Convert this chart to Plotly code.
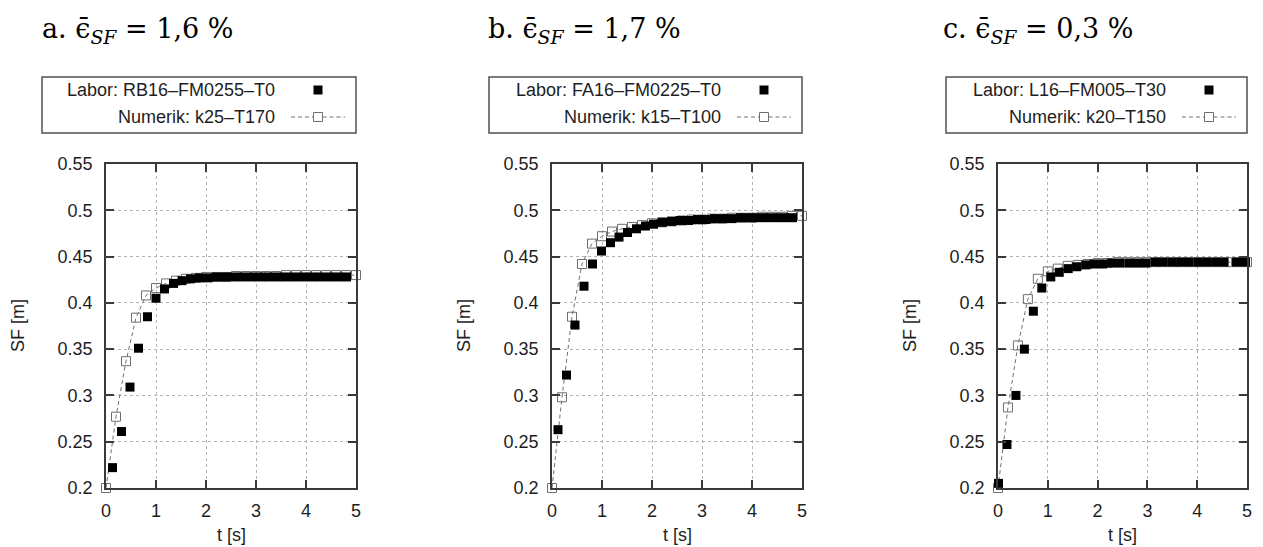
import plotly.graph_objects as go

W, H = 1263, 547

# ---------------- data ----------------
num_t = [0.0, 0.2, 0.4, 0.6, 0.8, 1.0, 1.2, 1.4, 1.6, 1.8, 2.0, 2.2, 2.4, 2.6, 2.8,
         3.0, 3.2, 3.4, 3.6, 3.8, 4.0, 4.2, 4.4, 4.6, 4.8, 5.0]

num_a = [0.200, 0.277, 0.337, 0.384, 0.408, 0.416, 0.421, 0.424, 0.426, 0.427, 0.428, 0.428, 0.428,
         0.429, 0.429, 0.429, 0.429, 0.429, 0.430, 0.430, 0.430, 0.430, 0.430, 0.430, 0.430, 0.430]
lab_t_a = [0.13, 0.31, 0.48, 0.65, 0.83, 1.00, 1.17, 1.35, 1.52, 1.69, 1.87, 2.04, 2.21, 2.39,
           2.56, 2.73, 2.91, 3.08, 3.25, 3.43, 3.60, 3.77, 3.95, 4.12, 4.29, 4.47, 4.64, 4.81]
lab_a = [0.222, 0.261, 0.309, 0.351, 0.385, 0.405, 0.415, 0.421, 0.424, 0.426, 0.427, 0.427, 0.428, 0.428,
         0.428, 0.428, 0.428, 0.428, 0.428, 0.428, 0.428, 0.428, 0.428, 0.428, 0.428, 0.428, 0.428, 0.428]

num_b = [0.200, 0.298, 0.385, 0.442, 0.464, 0.472, 0.477, 0.480, 0.482, 0.484, 0.486, 0.487, 0.488,
         0.489, 0.490, 0.490, 0.491, 0.491, 0.492, 0.492, 0.492, 0.493, 0.493, 0.493, 0.494, 0.494]
lab_t_b = [0.12, 0.29, 0.46, 0.64, 0.81, 0.99, 1.17, 1.34, 1.51, 1.69, 1.87, 2.03, 2.21, 2.39,
           2.56, 2.73, 2.91, 3.08, 3.25, 3.43, 3.60, 3.77, 3.95, 4.12, 4.29, 4.47, 4.64, 4.81]
lab_b = [0.263, 0.322, 0.376, 0.418, 0.442, 0.456, 0.465, 0.471, 0.476, 0.480, 0.483, 0.485, 0.487, 0.488,
         0.489, 0.489, 0.490, 0.490, 0.491, 0.491, 0.491, 0.492, 0.492, 0.492, 0.492, 0.492, 0.492, 0.492]

num_c = [0.200, 0.287, 0.354, 0.404, 0.426, 0.434, 0.437, 0.440, 0.441, 0.442, 0.443, 0.443, 0.444,
         0.444, 0.444, 0.444, 0.444, 0.444, 0.444, 0.444, 0.444, 0.444, 0.444, 0.444, 0.444, 0.444]
lab_t_c = [0.01, 0.18, 0.36, 0.53, 0.71, 0.88, 1.06, 1.23, 1.41, 1.58, 1.76, 1.93, 2.10, 2.28, 2.45,
           2.63, 2.80, 2.97, 3.15, 3.32, 3.50, 3.67, 3.84, 4.02, 4.19, 4.37, 4.54, 4.79, 4.97]
lab_c = [0.205, 0.247, 0.300, 0.350, 0.391, 0.416, 0.428, 0.433, 0.437, 0.439, 0.441, 0.442, 0.442,
         0.443, 0.443, 0.443, 0.443, 0.443, 0.444, 0.444, 0.444, 0.444, 0.444, 0.444, 0.444, 0.444,
         0.444, 0.444, 0.444]

titles = ["a. ϵ̄<sub><i>SF</i></sub> = 1,6 %", "b. ϵ̄<sub><i>SF</i></sub> = 1,7 %", "c. ϵ̄<sub><i>SF</i></sub> = 0,3 %"]
lab_names = ["Labor: RB16–FM0255–T0", "Labor: FA16–FM0225–T0", "Labor: L16–FM005–T30"]
num_names = ["Numerik: k25–T170", "Numerik: k15–T100", "Numerik: k20–T150"]

x_ticks = [0, 1, 2, 3, 4, 5]
x_ticktext = ["0", "1", "2", "3", "4", "5"]
y_ticks = [0.2, 0.25, 0.3, 0.35, 0.4, 0.45, 0.5, 0.55]
y_ticktext = ["0.2", "0.25", "0.3", "0.35", "0.4", "0.45", "0.5", "0.55"]
x_title = "t [s]"
y_title = "SF [m]"

panels = [
    (num_a, lab_t_a, lab_a),
    (num_b, lab_t_b, lab_b),
    (num_c, lab_t_c, lab_c),
]

# ---------------- layout geometry (pixels) ----------------
plot_left = [106, 552, 998]
plot_right = [356, 802, 1247]
plot_top, plot_bot = 164, 488
title_x = [40, 486, 941]
legend_left = [42, 489, 946]

def px(x):
    return x / W

def py(y):
    return 1 - y / H

FONT = "Liberation Sans, Arial, Helvetica, sans-serif"
SERIF = "DejaVu Serif, Liberation Serif, serif"
TXT = "#1e1e1e"
AX = "#3a3a3a"

fig = go.Figure()
layout = dict(width=W, height=H, autosize=False, margin=dict(l=0, r=0, t=0, b=0, autoexpand=False),
              paper_bgcolor="white", plot_bgcolor="white", showlegend=False, template="none")
annotations = []
shapes = []

for i, (num_y, lt, ly) in enumerate(panels):
    sfx = "" if i == 0 else str(i + 1)
    xa, ya = "x" + sfx, "y" + sfx
    fig.add_trace(go.Scatter(x=num_t, y=num_y, xaxis=xa, yaxis=ya, mode="lines+markers",
                             line=dict(color="#707070", width=1, dash="4px,3px"),
                             marker=dict(symbol="square-open", size=9, color="#6e6e6e",
                                         line=dict(width=1, color="#6e6e6e")),
                             cliponaxis=False, name=num_names[i]))
    fig.add_trace(go.Scatter(x=lt, y=ly, xaxis=xa, yaxis=ya, mode="markers",
                             marker=dict(symbol="square", size=9, color="black",
                                         line=dict(width=0)),
                             cliponaxis=False, name=lab_names[i]))
    common = dict(showgrid=True, gridcolor="#b4b4b4", griddash="dot", gridwidth=1,
                  showline=True, linecolor=AX, linewidth=1.5, mirror="ticks",
                  ticks="inside", ticklen=8, tickcolor=AX, tickwidth=1.5, automargin=False,
                  tickfont=dict(family=FONT, size=18, color=TXT), zeroline=False)
    layout["xaxis" + sfx] = dict(common, anchor=ya, range=[0, 5],
                                 domain=[px(plot_left[i]), px(plot_right[i])],
                                 tickvals=x_ticks, ticktext=x_ticktext, ticklabelstandoff=6)
    layout["yaxis" + sfx] = dict(common, anchor=xa, range=[0.2, 0.55],
                                 domain=[py(plot_bot), py(plot_top)],
                                 tickvals=y_ticks, ticktext=y_ticktext, ticklabelstandoff=8)

    # axis titles
    annotations.append(dict(x=px((plot_left[i] + plot_right[i]) / 2), y=py(535), xref="paper", yref="paper",
                            text=x_title, showarrow=False, xanchor="center", yanchor="middle",
                            font=dict(family=FONT, size=18, color=TXT)))
    annotations.append(dict(x=px(plot_left[i] - 88), y=py((plot_top + plot_bot) / 2), xref="paper",
                            yref="paper", text=y_title, showarrow=False, textangle=-90,
                            xanchor="center", yanchor="middle",
                            font=dict(family=FONT, size=18, color=TXT)))
    # panel title
    annotations.append(dict(x=px(title_x[i]), y=py(30), xref="paper", yref="paper",
                            text=titles[i], showarrow=False, xanchor="left", yanchor="middle",
                            font=dict(family=SERIF, size=27, color="black")))

    # legend box
    r = plot_right[i]
    shapes.append(dict(type="rect", xref="paper", yref="paper",
                       x0=px(legend_left[i]), x1=px(r), y0=py(133), y1=py(77),
                       line=dict(color="#505050", width=1.5), fillcolor="rgba(0,0,0,0)"))
    text_end = r - 79
    annotations.append(dict(x=px(text_end), y=py(90), xref="paper", yref="paper", text=lab_names[i],
                            showarrow=False, xanchor="right", yanchor="middle",
                            font=dict(family=FONT, size=18, color=TXT)))
    annotations.append(dict(x=px(text_end), y=py(117), xref="paper", yref="paper", text=num_names[i],
                            showarrow=False, xanchor="right", yanchor="middle",
                            font=dict(family=FONT, size=18, color=TXT)))
    cx = r - 38
    shapes.append(dict(type="rect", xref="paper", yref="paper",
                       x0=px(cx - 4.5), x1=px(cx + 4.5), y0=py(90 + 4.5), y1=py(90 - 4.5),
                       line=dict(width=0), fillcolor="black"))
    shapes.append(dict(type="line", xref="paper", yref="paper",
                       x0=px(cx - 27), x1=px(cx - 4.5), y0=py(117), y1=py(117),
                       line=dict(color="#707070", width=1, dash="4px,3px")))
    shapes.append(dict(type="line", xref="paper", yref="paper",
                       x0=px(cx + 4.5), x1=px(cx + 27), y0=py(117), y1=py(117),
                       line=dict(color="#707070", width=1, dash="4px,3px")))
    shapes.append(dict(type="rect", xref="paper", yref="paper",
                       x0=px(cx - 4.5), x1=px(cx + 4.5), y0=py(117 + 4.5), y1=py(117 - 4.5),
                       line=dict(width=1, color="#6e6e6e"), fillcolor="white"))

layout["annotations"] = annotations
layout["shapes"] = shapes
fig.update_layout(**layout)
fig.write_html("out.html", config={"displayModeBar": False},
               post_script="document.body.style.margin='0';document.body.style.overflow='hidden';")
